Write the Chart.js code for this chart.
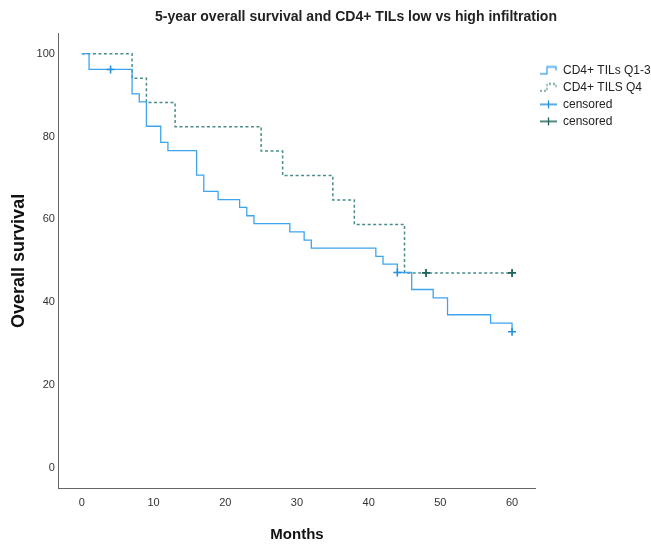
<!DOCTYPE html>
<html>
<head>
<meta charset="utf-8">
<script src="https://cdn.jsdelivr.net/npm/chart.js@4.4.1/dist/chart.umd.min.js"></script>
<style>
  html, body { margin: 0; padding: 0; background: #fff; }
</style>
</head>
<body>
<canvas id="km" width="651" height="544"></canvas>
<script>
const titleText = '5-year overall survival and CD4+ TILs low vs high infiltration';
const lowLabel = 'CD4+ TILs Q1-3';
const highLabel = 'CD4+ TILS Q4';
const censorLabel = 'censored';
const xTitle = 'Months';
const yTitle = 'Overall survival';

// Kaplan-Meier steps (months, % surviving)
const lowMonths   = [0, 1, 7, 8, 9, 11, 12, 16, 17, 19, 22, 23, 24, 29, 31, 32, 41, 42, 44, 46, 49, 51, 57, 60];
const lowSurvival = [100, 96.2, 90.3, 88.4, 82.5, 78.6, 76.6, 70.7, 66.8, 64.8, 62.9, 60.9, 59.0, 57.0, 55.0, 53.1, 51.1, 49.2, 47.2, 43.1, 41.1, 37.0, 35.0, 32.9];
const highMonths   = [0, 7, 9, 13, 25, 28, 35, 38, 45, 60];
const highSurvival = [100, 94.1, 88.2, 82.4, 76.5, 70.6, 64.7, 58.8, 47.1, 47.1];

const lowCensorMonths   = [4, 44, 60];
const lowCensorSurvival = [96.2, 47.2, 32.9];
const highCensorMonths   = [48, 60];
const highCensorSurvival = [47.1, 47.1];

const xTicks = [0, 10, 20, 30, 40, 50, 60];
const yTicks = [0, 20, 40, 60, 80, 100];

const BLUE = '#3ea4ee';
const TEAL = '#4a8c88';
const BLUE_MARK = '#2590dc';
const TEAL_MARK = '#1f625c';
const FONT = '"Liberation Sans", Arial, sans-serif';

const pts = (xs, ys) => xs.map((x, i) => ({ x, y: ys[i] }));

// little legend glyphs, SPSS style
function icon(kind, color) {
  const c = document.createElement('canvas');
  c.width = 17; c.height = 10;
  const g = c.getContext('2d');
  g.strokeStyle = color;
  g.lineWidth = 1.3;
  if (kind === 'dash') g.setLineDash([2, 2]);
  g.beginPath();
  if (kind === 'cross') {
    g.moveTo(0, 5); g.lineTo(17, 5);
    g.moveTo(8.5, 1); g.lineTo(8.5, 9);
  } else {
    g.moveTo(0, 8.5); g.lineTo(7, 8.5); g.lineTo(7, 1.5); g.lineTo(16, 1.5); g.lineTo(16, 5);
  }
  g.stroke();
  return c;
}

// SPSS title is a narrow bold face: squeeze the text to the same width
const titlePlugin = {
  id: 'kmTitle',
  afterDraw(chart) {
    const { ctx } = chart;
    ctx.save();
    ctx.font = `bold 15.5px ${FONT}`;
    const sx = Math.min(1, 402 / ctx.measureText(titleText).width);
    ctx.fillStyle = '#222';
    ctx.textAlign = 'center';
    ctx.textBaseline = 'middle';
    ctx.translate(356, 17);
    ctx.scale(sx, 1);
    ctx.fillText(titleText, 0, 0);
    ctx.restore();
  }
};

const axisCommon = {
  type: 'linear',
  grid: { display: false, drawTicks: false },
  border: { display: true, color: '#666', width: 1 },
};

const legendItem = (text, kind, color, i) =>
  ({ text, pointStyle: icon(kind, color), datasetIndex: i, lineWidth: 0, fontColor: '#222' });

new Chart(document.getElementById('km'), {
  type: 'line',
  data: {
    datasets: [
      { label: lowLabel, data: pts(lowMonths, lowSurvival), stepped: 'before', borderColor: BLUE, borderWidth: 1.3, pointRadius: 0, fill: false, order: 1 },
      { label: highLabel, data: pts(highMonths, highSurvival), stepped: 'before', borderColor: TEAL, borderWidth: 1.5, borderDash: [3, 2.5], pointRadius: 0, fill: false, order: 2 },
      { label: censorLabel, data: pts(lowCensorMonths, lowCensorSurvival), showLine: false, pointStyle: 'cross', pointRadius: 4, pointBorderWidth: 1.6, borderColor: BLUE_MARK, order: 0 },
      { label: censorLabel, data: pts(highCensorMonths, highCensorSurvival), showLine: false, pointStyle: 'cross', pointRadius: 4, pointBorderWidth: 1.8, borderColor: TEAL_MARK, order: 0 },
    ],
  },
  options: {
    responsive: false,
    animation: false,
    layout: { padding: { top: 33, right: 0, bottom: 0, left: 6 } },
    plugins: {
      tooltip: { enabled: false },
      legend: {
        position: 'right',
        align: 'start',
        maxWidth: 116,
        title: { display: true, text: ' ', font: { size: 12 }, padding: { top: 0, bottom: 12 } },
        labels: {
          usePointStyle: true,
          pointStyleWidth: 17,
          padding: 5,
          color: '#222',
          font: { family: FONT, size: 12 },
          generateLabels: () => [
            legendItem(lowLabel, 'step', BLUE, 0),
            legendItem(highLabel, 'dash', TEAL, 1),
            legendItem(censorLabel, 'cross', BLUE_MARK, 2),
            legendItem(censorLabel, 'cross', TEAL_MARK, 3),
          ],
        },
      },
    },
    scales: {
      x: {
        ...axisCommon,
        min: -3.2,
        max: 63.2,
        afterBuildTicks: s => { s.ticks = xTicks.map(v => ({ value: v })); },
        ticks: { color: '#333', font: { family: FONT, size: 11 }, padding: 8 },
        title: { display: true, text: xTitle, color: '#111', font: { family: FONT, size: 15, weight: 'bold' }, padding: { top: 8, bottom: 0 } },
      },
      y: {
        ...axisCommon,
        min: -5,
        max: 105,
        afterBuildTicks: s => { s.ticks = yTicks.map(v => ({ value: v })); },
        ticks: { color: '#333', font: { family: FONT, size: 11 }, padding: 4 },
        title: { display: true, text: yTitle, color: '#111', font: { family: FONT, size: 18, weight: 'bold' }, padding: { top: 2, bottom: 3 } },
      },
    },
  },
  plugins: [titlePlugin],
});
</script>
</body>
</html>
